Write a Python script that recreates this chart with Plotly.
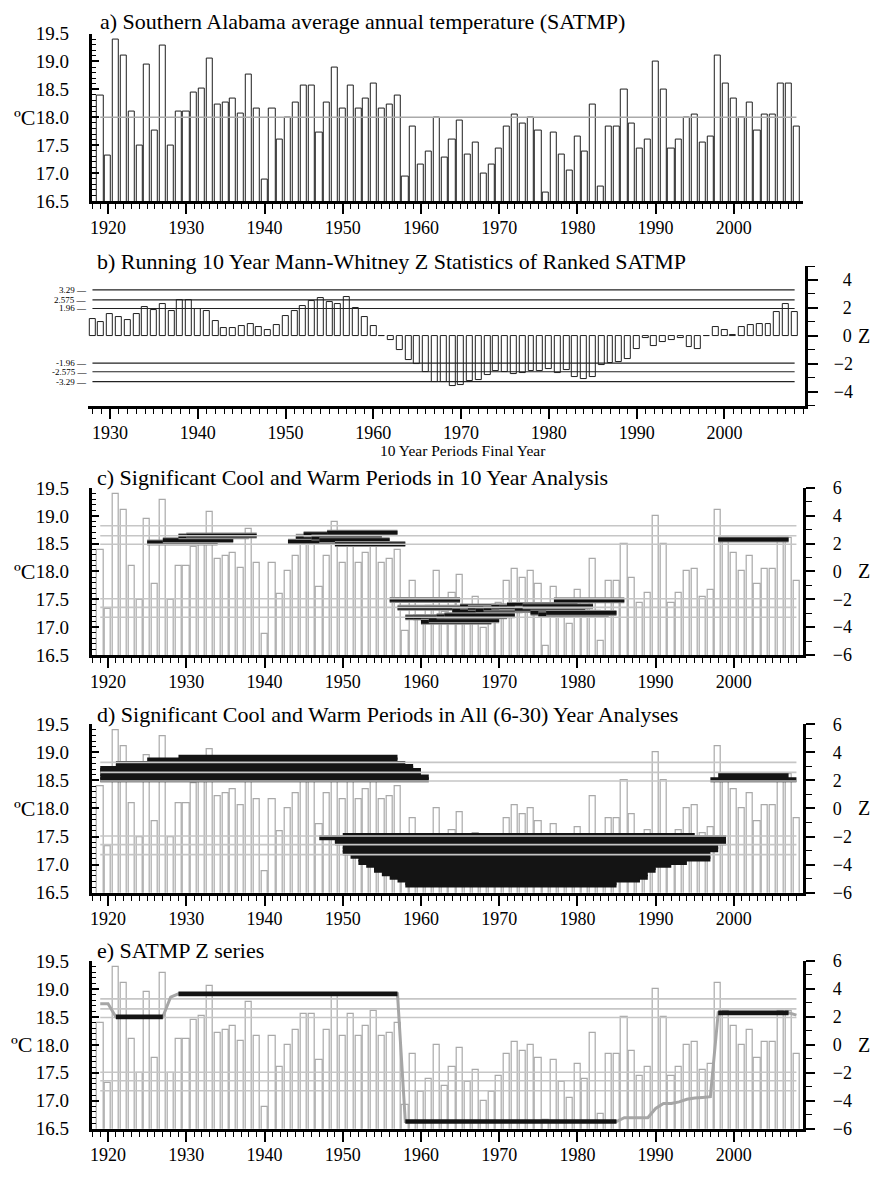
import plotly.graph_objects as go

W, H = 871, 1177
FONT = "Liberation Serif"

# ---------------- data ----------------
years = list(range(1919, 2009))
satmp = [18.39, 17.32, 19.39, 19.11, 18.10, 17.49, 18.95, 17.77, 19.28, 17.49,
         18.10, 18.10, 18.44, 18.51, 19.06, 18.22, 18.27, 18.34, 18.06, 18.77,
         18.16, 16.88, 18.16, 17.60, 18.00, 18.27, 18.56, 18.56, 17.72, 18.27,
         18.89, 18.16, 18.56, 18.16, 18.34, 18.60, 18.16, 18.22, 18.39, 16.93,
         17.83, 17.16, 17.38, 18.00, 17.27, 17.61, 17.94, 17.33, 17.55, 16.99,
         17.16, 17.44, 17.83, 18.05, 17.89, 18.00, 17.77, 16.66, 17.72, 17.33,
         17.05, 17.66, 17.38, 18.22, 16.76, 17.83, 17.83, 18.50, 17.89, 17.44,
         17.61, 19.00, 18.50, 17.44, 17.61, 18.00, 18.05, 17.55, 17.66, 19.11,
         18.61, 18.34, 18.00, 18.27, 17.77, 18.05, 18.05, 18.61, 18.61, 17.83]
satmp_ref = 18.0

# running 10-year Mann-Whitney Z, indexed by final year of each window
mw_years = list(range(1928, 2009))
mw_z = [1.22, 0.99, 1.55, 1.31, 1.13, 1.55, 2.09, 1.83, 2.25, 1.74,
        2.54, 2.58, 1.92, 1.74, 1.08, 0.52, 0.52, 0.68, 0.82, 0.61,
        0.38, 0.75, 1.41, 1.74, 2.14, 2.49, 2.68, 2.44, 2.25, 2.79,
        1.97, 1.31, 0.68, -0.05, -0.31, -1.03, -1.76, -2.04, -2.61, -3.29,
        -3.29, -3.62, -3.50, -3.22, -3.15, -2.79, -2.51, -2.61, -2.77, -2.65,
        -2.54, -2.56, -2.40, -2.68, -2.49, -2.96, -3.08, -2.98, -2.07, -1.94,
        -1.90, -1.67, -0.94, -0.14, -0.73, -0.42, -0.28, -0.14, -0.82, -0.96,
        -0.05, 0.63, 0.42, 0.05, 0.66, 0.80, 0.85, 0.85, 1.67, 2.30,
        1.67]
window = 10
crit_levels = [1.96, 2.575, 3.29]
crit_labels = ["3.29", "2.575", "1.96", "-1.96", "-2.575", "-3.29"]

# significant periods from all 6-30 year analyses: (first year, last year, Z)
all_periods = [
    (1919, 1961, 2.05), (1919, 1961, 2.25), (1919, 1960, 2.50), (1919, 1960, 2.70),
    (1919, 1959, 2.85), (1921, 1959, 3.00), (1921, 1958, 3.20), (1925, 1957, 3.45),
    (1929, 1957, 3.65),
    (1950, 1995, -1.92), (1947, 1999, -2.08), (1949, 1999, -2.30), (1949, 1999, -2.45),
    (1950, 1998, -2.70), (1950, 1998, -2.95), (1950, 1997, -3.15), (1951, 1997, -3.40),
    (1952, 1997, -3.60), (1952, 1994, -3.85), (1953, 1992, -4.05), (1954, 1990, -4.20),
    (1954, 1990, -4.40), (1955, 1989, -4.65), (1956, 1989, -4.90), (1957, 1988, -5.10),
    (1958, 1985, -5.30), (1958, 1985, -5.45),
    (1997, 2008, 2.05), (1998, 2007, 2.35),
]

# SATMP Z series, one value per year 1919-2008
z_series = [2.95, 2.95, 2.00, 2.00, 2.00, 2.00, 2.00, 2.00, 2.00, 3.42,
            3.65, 3.65, 3.65, 3.65, 3.65, 3.65, 3.65, 3.65, 3.65, 3.65,
            3.65, 3.65, 3.65, 3.65, 3.65, 3.65, 3.65, 3.65, 3.65, 3.65,
            3.65, 3.65, 3.65, 3.65, 3.65, 3.65, 3.65, 3.65, 3.65, -5.49,
            -5.49, -5.49, -5.49, -5.49, -5.49, -5.49, -5.49, -5.49, -5.49, -5.49,
            -5.49, -5.49, -5.49, -5.49, -5.49, -5.49, -5.49, -5.49, -5.49, -5.49,
            -5.49, -5.49, -5.49, -5.49, -5.49, -5.49, -5.49, -5.21, -5.21, -5.21,
            -5.21, -4.55, -4.20, -4.20, -4.08, -3.90, -3.80, -3.76, -3.71, 2.29,
            2.29, 2.29, 2.29, 2.29, 2.29, 2.29, 2.29, 2.29, 2.29, 2.13]
z_sig_periods = [(1921, 1927), (1929, 1957), (1958, 1985), (1998, 2007)]

# ---------------- layout helpers ----------------
def fx(p):
    return p / W


def fy(p):
    return 1 - p / H


YR_RANGE = [1917.92, 2008.86]
MW_RANGE = [1927.47, 2009.2]
panels_y = {  # pixel top / bottom of each plot area
    "a": (24, 194.5), "b": (260.7, 402.7), "c": (486.7, 656.7),
    "d": (727.3, 898.7), "e": (968.3, 1139),
}

fig = go.Figure()


def xaxis_cfg(rng, dom, anchor, tick0, standoff=-2):
    return dict(range=rng, domain=dom, anchor=anchor, showline=True, linewidth=3,
                linecolor="black", ticks="outside", ticklen=10, tickwidth=1.5,
                tickcolor="black", dtick=10, tick0=tick0, showgrid=False, zeroline=False,
                tickfont=dict(size=18, family=FONT, color="black"),
                ticklabelstandoff=standoff,
                minor=dict(dtick=1, ticklen=5, tickwidth=1, tickcolor="black",
                           ticks="outside", showgrid=False))


def ycel_cfg(key, anchor):
    top, bot = panels_y[key]
    return dict(range=[16.5, 19.5], domain=[fy(bot), fy(top)], anchor=anchor,
                showline=True, linewidth=3, linecolor="black", ticks="inside",
                ticklen=7, tickwidth=1.5, tickcolor="black", dtick=0.5, tick0=16.5,
                tickformat=".1f", showgrid=False, zeroline=False,
                tickfont=dict(size=19, family=FONT, color="black"), ticklabelstandoff=16,
                minor=dict(dtick=0.1, ticklen=4, tickwidth=1, tickcolor="black",
                           ticks="inside", showgrid=False))


def yz_cfg(anchor, overlay=None):
    cfg = dict(range=[-6, 6], anchor=anchor, side="right", showline=True, linewidth=3,
               linecolor="black", ticks="outside", ticklen=9, tickwidth=1.5,
               tickcolor="black", tickvals=[-6, -4, -2, 0, 2, 4, 6],
               ticktext=["\u22126", "\u22124", "\u22122", "0", "2", "4", "6"],
               showgrid=False, zeroline=False, ticklabelstandoff=14,
               tickfont=dict(size=18, family=FONT, color="black"),
               minor=dict(dtick=1, ticklen=6, tickwidth=1, tickcolor="black",
                          ticks="outside", showgrid=False))
    if overlay:
        cfg["overlaying"] = overlay
    return cfg


main_dom = [fx(90), fx(803)]
layout = dict(
    xaxis=xaxis_cfg(YR_RANGE, main_dom, "y", 1920),
    yaxis=ycel_cfg("a", "x"),
    xaxis2=xaxis_cfg(MW_RANGE, [fx(86), fx(805)], "y2", 1930, standoff=-1),
    yaxis2=dict(range=[-5, 5], domain=[fy(panels_y["b"][1]), fy(panels_y["b"][0])],
                anchor="x2", side="right", showline=True, linewidth=3, linecolor="black",
                ticks="outside", ticklen=10, tickwidth=1.5, tickcolor="black",
                tickvals=[-4, -2, 0, 2, 4],
                ticktext=["\u22124", "\u22122", "\u20070", "\u20072", "\u20074"],
                showgrid=False, zeroline=False, ticklabelstandoff=12,
                tickfont=dict(size=18, family=FONT, color="black"),
                minor=dict(dtick=1, ticklen=7, tickwidth=1, tickcolor="black",
                           ticks="outside", showgrid=False)),
    xaxis3=xaxis_cfg(YR_RANGE, main_dom, "y3", 1920),
    yaxis3=ycel_cfg("c", "x3"),
    yaxis4=yz_cfg("x3", "y3"),
    xaxis4=xaxis_cfg(YR_RANGE, main_dom, "y5", 1920),
    yaxis5=ycel_cfg("d", "x4"),
    yaxis6=yz_cfg("x4", "y5"),
    xaxis5=xaxis_cfg(YR_RANGE, main_dom, "y7", 1920),
    yaxis7=ycel_cfg("e", "x5"),
    yaxis8=yz_cfg("x5", "y7"),
)

BAR_W = 0.78
GRAY_BAR = "#a9a9a9"
REF_GRAY = "#c6c6c6"

# ---------------- a) annual temperature ----------------
fig.add_trace(go.Bar(x=years, y=satmp, width=BAR_W, marker=dict(color="white",
                     line=dict(color="#1e1e1e", width=1)), xaxis="x", yaxis="y"))
fig.add_trace(go.Scatter(x=[years[0], years[-1]], y=[satmp_ref, satmp_ref], mode="lines",
                         line=dict(color="#aaaaaa", width=1.5), xaxis="x", yaxis="y"))

# ---------------- b) running Mann-Whitney Z ----------------
fig.add_trace(go.Bar(x=mw_years, y=mw_z, width=0.68, marker=dict(color="white",
                     line=dict(color="#1e1e1e", width=1)), xaxis="x2", yaxis="y2"))
for lvl in crit_levels:
    for s in (1, -1):
        fig.add_trace(go.Scatter(x=[mw_years[0], mw_years[-1]], y=[s * lvl, s * lvl],
                                 mode="lines", line=dict(color="#222222", width=1.1),
                                 xaxis="x2", yaxis="y2"))


# ---------------- c, d, e shared pieces ----------------
def temp_bars(xa, ya):
    fig.add_trace(go.Bar(x=years, y=satmp, width=BAR_W, marker=dict(color="white",
                         line=dict(color=GRAY_BAR, width=1.2)), xaxis=xa, yaxis=ya))


def ref_lines(xa, ya):
    for lvl in crit_levels:
        for s in (1, -1):
            fig.add_trace(go.Scatter(x=[years[0], years[-1]], y=[s * lvl, s * lvl],
                                     mode="lines", line=dict(color=REF_GRAY, width=1.6),
                                     xaxis=xa, yaxis=ya))


# c) significant 10-year windows
temp_bars("x3", "y3")
c_periods = [(yr - window + 1, yr, z) for yr, z in zip(mw_years, mw_z)
             if abs(z) >= crit_levels[0]]
for first, last, z in c_periods:
    fig.add_trace(go.Scatter(x=[first, last], y=[z, z], mode="lines",
                             line=dict(color="#8c8c8c", width=6), xaxis="x3", yaxis="y4"))
    fig.add_trace(go.Scatter(x=[first, last], y=[z, z], mode="lines",
                             line=dict(color="#111111", width=3.8), xaxis="x3", yaxis="y4"))
ref_lines("x3", "y4")

# d) all 6-30 year analyses
temp_bars("x4", "y5")
for first, last, z in all_periods:
    fig.add_trace(go.Scatter(x=[first, last], y=[z, z], mode="lines",
                             line=dict(color="#141414", width=5), xaxis="x4", yaxis="y6"))
ref_lines("x4", "y6")

# e) Z series
temp_bars("x5", "y7")
ref_lines("x5", "y8")
fig.add_trace(go.Scatter(x=years, y=z_series, mode="lines",
                         line=dict(color="#a6a6a6", width=3), xaxis="x5", yaxis="y8"))
for first, last in z_sig_periods:
    xs = [yr for yr in years if first <= yr <= last]
    zs = [z for yr, z in zip(years, z_series) if first <= yr <= last]
    fig.add_trace(go.Scatter(x=xs, y=zs, mode="lines", line=dict(color="#141414", width=4.6),
                             xaxis="x5", yaxis="y8"))

# ---------------- text ----------------
ann = []
titles = [
    ("a) Southern Alabama average annual temperature (SATMP)", 96, 12),
    ("b) Running 10 Year Mann-Whitney Z Statistics of Ranked SATMP", 93, 256),
    ("c) Significant Cool and Warm Periods in 10 Year Analysis", 93, 476),
    ("d) Significant Cool and Warm Periods in All (6-30) Year Analyses", 93, 717),
    ("e) SATMP Z series", 93, 958),
]
for txt, px, py in titles:
    ann.append(dict(text=txt, x=fx(px), y=fy(py), xref="paper", yref="paper",
                    xanchor="left", yanchor="middle", showarrow=False,
                    font=dict(size=22, family=FONT, color="black")))

for ya, xc in (("y", 23), ("y3", 23), ("y5", 23), ("y7", 20)):
    ann.append(dict(text="ºC", x=fx(xc), y=18.0, xref="paper", yref=ya,
                    xanchor="center", yanchor="middle", showarrow=False,
                    font=dict(size=22, family=FONT, color="black")))

for ya in ("y2", "y4", "y6", "y8"):
    ann.append(dict(text="Z", x=fx(864), y=0, xref="paper", yref=ya,
                    xanchor="center", yanchor="middle", showarrow=False,
                    font=dict(size=20, family=FONT, color="black")))

for lab in crit_labels:
    ann.append(dict(text=lab + " \u2014", x=fx(87), y=float(lab), xref="paper", yref="y2",
                    xanchor="right", yanchor="middle", showarrow=False,
                    font=dict(size=9, family=FONT, color="black")))

ann.append(dict(text="10 Year Periods Final Year", x=fx(462), y=fy(449), xref="paper",
                yref="paper", xanchor="center", yanchor="middle", showarrow=False,
                font=dict(size=15.5, family=FONT, color="black")))

fig.update_layout(
    **layout,
    width=W, height=H, margin=dict(l=0, r=0, t=0, b=0),
    paper_bgcolor="white", plot_bgcolor="white", showlegend=False,
    bargap=0, hovermode=False, annotations=ann,
    font=dict(family=FONT, color="black"),
)

fig.write_html("out.html")
